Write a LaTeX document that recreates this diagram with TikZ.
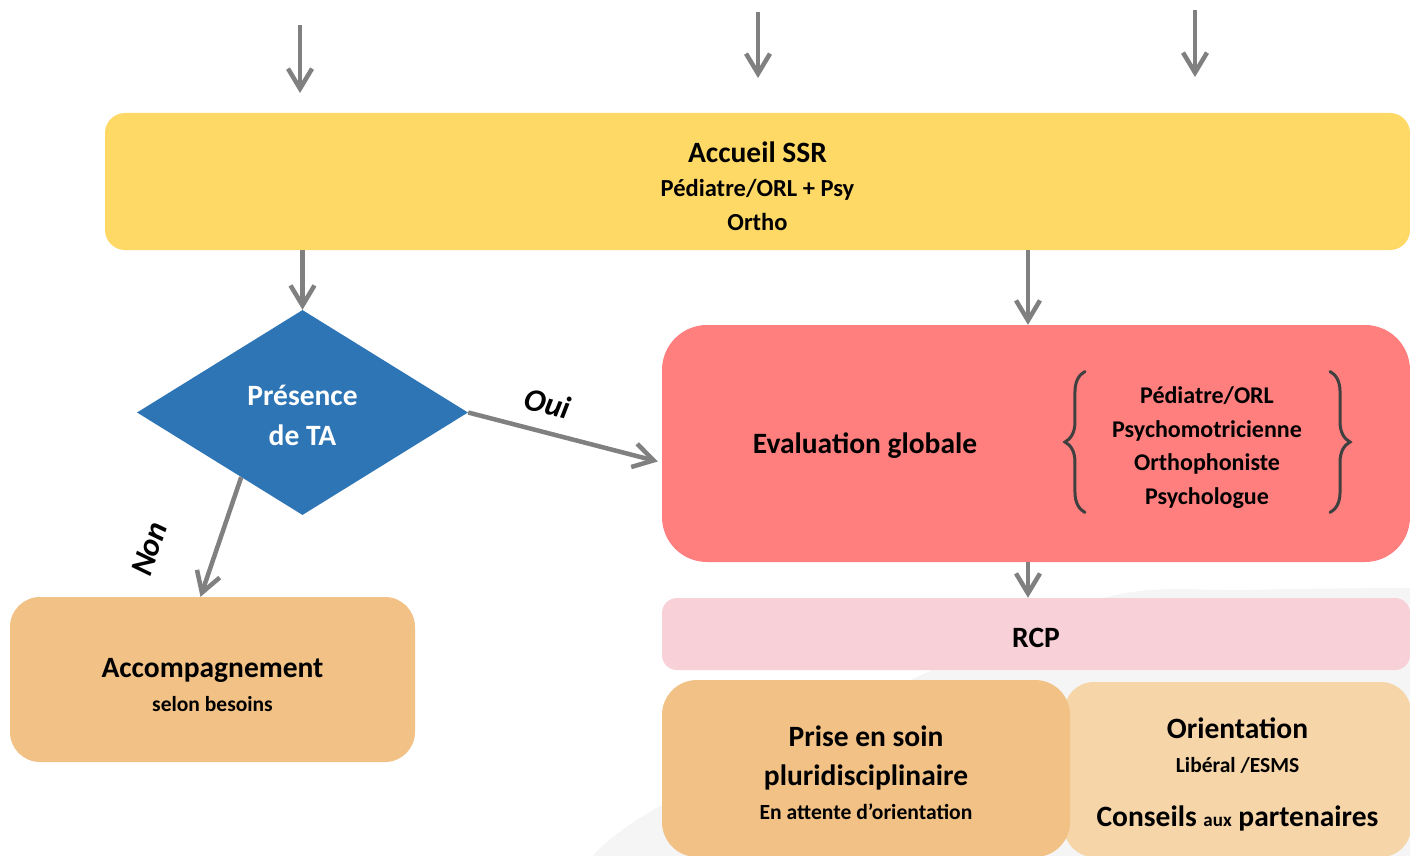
\documentclass[tikz,border=0pt]{standalone}
\usepackage{fontspec}
\setmainfont{Carlito}
\usetikzlibrary{arrows.meta,shapes.geometric,decorations.pathreplacing,calc}

\definecolor{jauneSSR}{HTML}{FFD966}
\definecolor{bleuTA}{HTML}{2E75B6}
\definecolor{rougeEval}{HTML}{FF7F7F}
\definecolor{roseRCP}{HTML}{F8D0D8}
\definecolor{orangeSoin}{HTML}{F2C185}
\definecolor{beigeOrient}{HTML}{F6D5A8}
\definecolor{grisFleche}{HTML}{808080}
\definecolor{grisAccolade}{HTML}{404040}

\newcommand{\fs}[1]{\fontsize{#1}{#1}\selectfont}
\newcommand{\decal}[1]{\rule{0pt}{#1}}

\tikzset{
  boite/.style={rounded corners=#1, inner sep=0pt, align=center,
    font=\bfseries\fontsize{24.5}{34}\selectfont},
  fleche/.style={draw=grisFleche, line width=4.5pt,
    -{Straight Barb[length=20pt,width=24pt]}},
  etiquette/.style={font=\bfseries\itshape\fs{32}, sloped}
}

\begin{document}
\begin{tikzpicture}[x=1pt, y=-1pt]
  \useasboundingbox[fill=white] (0,0) rectangle (1410,856);

  % fond gris
  \fill[black!4] plot[smooth, tension=0.6] coordinates
    {(593,856) (662,805) (913,679) (1103,598) (1250,590) (1410,588)}
    -- (1410,856) -- cycle;

  % boites
  \node[boite=20pt, fill=jauneSSR, minimum width=1305pt, minimum height=137pt]
    (accueil) at (757.5,181.5)
    {\fs{29.5}\decal{30pt}Accueil SSR\\ Pédiatre/ORL + Psy\\ Ortho};
  \node[diamond, fill=bleuTA, text=white, inner sep=0pt, align=center,
    minimum width=331pt, minimum height=205pt,
    font=\bfseries\fontsize{29.5}{40}\selectfont]
    (ta) at (302.5,412.5) {\decal{27pt}Présence\\ de TA};
  \node[boite=45pt, fill=rougeEval, minimum width=748pt, minimum height=237pt]
    (eval) at (1036,443.5) {};
  \node[font=\bfseries\fs{29.5}] (evaltitre) at (865,446) {Evaluation globale};
  \node[inner sep=0pt, align=center, font=\bfseries\fontsize{24}{33.5}\selectfont]
    (membres) at (1207,445)
    {\decal{22pt}Pédiatre/ORL\\ Psychomotricienne\\ Orthophoniste\\ Psychologue};
  \node[boite=15pt, fill=roseRCP, minimum width=748pt, minimum height=72pt]
    (rcp) at (1036,634) {\fs{29.5}\decal{28pt}RCP};
  \node[boite=30pt, fill=orangeSoin, minimum width=405pt, minimum height=165pt,
    font=\bfseries\fontsize{21.5}{34}\selectfont]
    (accomp) at (212.5,679.5) {\fs{29.5}\decal{31pt}Accompagnement\\ selon besoins};
  \node[boite=30pt, fill=beigeOrient, minimum width=347pt, minimum height=175pt,
    font=\bfseries\fontsize{21.5}{34}\selectfont]
    (orient) at (1237.5,769.5)
    {\fs{29.5}\decal{30pt}Orientation\\ Libéral /ESMS\\[20pt]
     \fs{29.5}Conseils {\fs{19}aux} partenaires};
  \node[boite=35pt, fill=orangeSoin, minimum width=408pt, minimum height=177pt,
    font=\bfseries\fontsize{21.6}{34}\selectfont]
    (soin) at (866,768.5)
    {\fs{29.5}\decal{30pt}Prise en soin\\[5pt] \fs{29.5}pluridisciplinaire\\
     En attente d’orientation};

  % accolades
  \draw[grisAccolade, line width=3pt, line cap=round,
    decorate, decoration={brace, amplitude=20pt}]
    ([xshift=-27pt,yshift=-4pt]membres.south west)
    -- ([xshift=-27pt,yshift=10pt]membres.north west);
  \draw[grisAccolade, line width=3pt, line cap=round,
    decorate, decoration={brace, amplitude=20pt}]
    ([xshift=28pt,yshift=10pt]membres.north east)
    -- ([xshift=28pt,yshift=-4pt]membres.south east);

  % fleches du haut
  \foreach \x/\ya/\yb [count=\i] in {300/25/93, 758/12/78, 1195/10/77} {
    \coordinate (haut\i) at (\x,\ya);
    \coordinate (bas\i) at (\x,\yb);
    \draw[fleche] (haut\i) -- (bas\i);
  }

  % liaisons
  \coordinate (evalin) at ([xshift=-8pt]eval.north);
  \coordinate (evalout) at ([xshift=-8pt]eval.south);
  \coordinate (nonout) at ($(ta.west)!0.63!(ta.south)$);
  \draw[fleche] (accueil.south -| ta.north) -- (ta.north);
  \draw[fleche] (evalin |- accueil.south) -- (evalin);
  \draw[fleche] (evalout) -- (evalout |- rcp.north);
  \draw[fleche] (ta.east) -- ([xshift=-4pt,yshift=-18pt]eval.west)
    node[etiquette, pos=0.38, above=12pt] {Oui};
  \draw[fleche] (nonout) -- ([xshift=-12pt]accomp.north)
    node[etiquette, pos=0.77, above=48pt] {Non};
\end{tikzpicture}
\end{document}
